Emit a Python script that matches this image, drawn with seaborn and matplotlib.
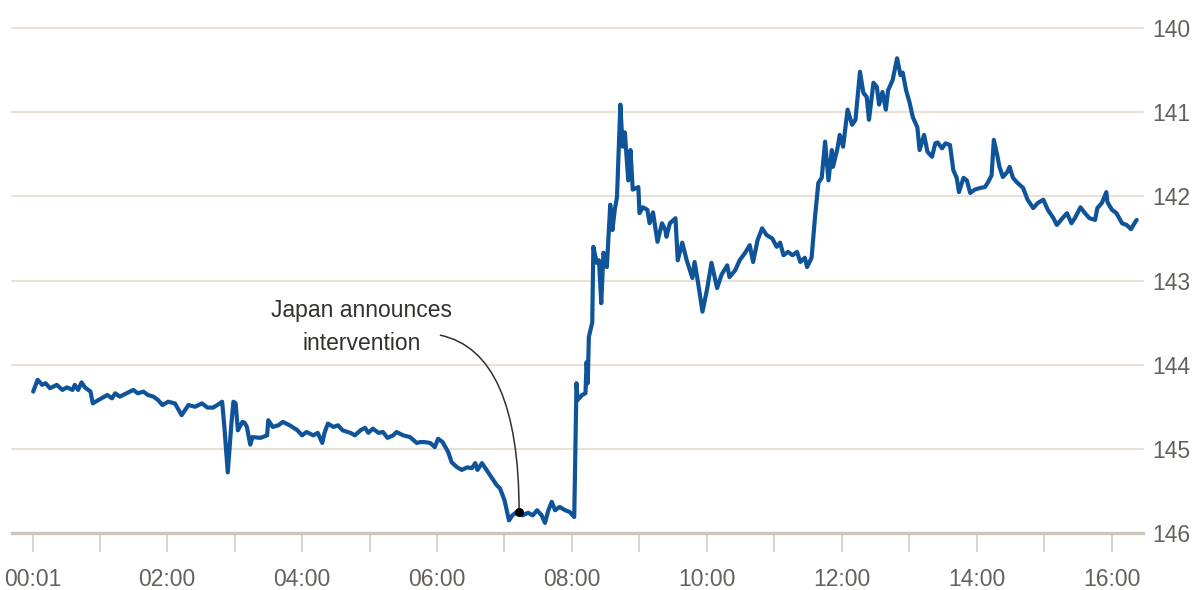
import matplotlib
matplotlib.use("Agg")
import matplotlib.pyplot as plt
import seaborn as sns
import pandas as pd

# Dollar-yen rate through the trading day (minutes after midnight, yen per dollar)
minutes = [
    1, 5, 9, 12, 16, 22, 27, 31, 36, 38, 41, 44, 47, 52, 54, 59, 67, 71, 74, 78,
    84, 90, 94, 99, 103, 108, 112, 116, 121, 127, 133, 139, 145, 151, 156, 161, 167, 169, 171, 173,
    174, 177, 179, 181, 183, 187, 189, 191, 194, 196, 203, 209, 210, 214, 219, 223, 229, 236, 240, 244,
    250, 254, 258, 260, 263, 268, 272, 276, 283, 287, 292, 296, 299, 303, 308, 312, 316, 321, 324, 330,
    336, 342, 345, 349, 354, 358, 361, 365, 370, 373, 378, 382, 387, 391, 394, 396, 400, 404, 409, 413,
    416, 420, 422, 424, 427, 431, 436, 441, 445, 449, 453, 456, 459, 462, 465, 469, 474, 478, 482, 484,
    485, 489, 492, 493, 494, 495, 498, 499, 502, 504, 506, 508, 511, 514, 516, 518, 520, 523, 525, 527,
    530, 532, 534, 539, 540, 543, 547, 549, 552, 556, 560, 563, 564, 567, 572, 574, 578, 582, 587, 589,
    592, 596, 600, 604, 609, 613, 618, 620, 625, 629, 634, 638, 641, 645, 649, 653, 658, 662, 665, 668,
    672, 676, 680, 683, 687, 689, 693, 696, 699, 702, 705, 708, 711, 712, 716, 718, 721, 725, 729, 732,
    736, 739, 742, 744, 748, 751, 753, 756, 759, 761, 765, 769, 772, 774, 777, 780, 783, 787, 789, 793,
    796, 800, 803, 805, 809, 812, 816, 819, 822, 824, 828, 831, 834, 838, 843, 847, 850, 853, 855, 858,
    860, 863, 867, 869, 872, 876, 881, 885, 890, 894, 899, 903, 908, 911, 916, 920, 924, 927, 932, 936,
    940, 945, 947, 951, 955, 956, 960, 964, 969, 973, 977, 980, 982,
]
usd_jpy = [
    144.32, 144.18, 144.24, 144.22, 144.28, 144.24, 144.30, 144.27, 144.30, 144.24, 144.30, 144.21, 144.27, 144.32, 144.46, 144.42, 144.36, 144.40, 144.34, 144.38,
    144.34, 144.30, 144.34, 144.32, 144.36, 144.38, 144.42, 144.48, 144.44, 144.46, 144.60, 144.48, 144.50, 144.46, 144.51, 144.51, 144.46, 144.44, 144.74, 145.10,
    145.28, 144.74, 144.44, 144.46, 144.78, 144.68, 144.69, 144.74, 144.95, 144.86, 144.87, 144.84, 144.66, 144.74, 144.72, 144.68, 144.72, 144.78, 144.84, 144.80,
    144.84, 144.81, 144.93, 144.81, 144.70, 144.74, 144.72, 144.78, 144.81, 144.84, 144.78, 144.75, 144.81, 144.76, 144.81, 144.80, 144.87, 144.84, 144.80, 144.84,
    144.86, 144.93, 144.92, 144.92, 144.93, 144.98, 144.88, 144.92, 145.04, 145.16, 145.22, 145.25, 145.22, 145.23, 145.17, 145.25, 145.17, 145.25, 145.35, 145.43,
    145.47, 145.61, 145.73, 145.85, 145.79, 145.75, 145.79, 145.76, 145.79, 145.73, 145.79, 145.88, 145.73, 145.63, 145.73, 145.69, 145.73, 145.75, 145.81, 144.22,
    144.42, 144.36, 144.34, 143.97, 144.22, 143.67, 143.50, 142.60, 142.79, 142.76, 143.27, 142.67, 142.84, 142.10, 142.40, 142.16, 142.01, 140.91, 141.41, 141.24,
    141.81, 141.45, 141.92, 141.89, 142.20, 142.13, 142.16, 142.32, 142.19, 142.54, 142.32, 142.40, 142.48, 142.32, 142.26, 142.76, 142.55, 142.76, 142.97, 142.78,
    143.02, 143.37, 143.11, 142.79, 143.09, 142.93, 142.82, 142.96, 142.88, 142.76, 142.67, 142.58, 142.78, 142.52, 142.38, 142.46, 142.50, 142.60, 142.55, 142.70,
    142.66, 142.70, 142.66, 142.78, 142.73, 142.84, 142.73, 142.25, 141.84, 141.78, 141.35, 141.81, 141.45, 141.65, 141.43, 141.27, 141.41, 140.97, 141.15, 141.09,
    140.52, 140.77, 140.82, 141.09, 140.65, 140.70, 140.91, 140.76, 140.97, 140.74, 140.62, 140.36, 140.56, 140.53, 140.74, 140.88, 141.06, 141.18, 141.45, 141.27,
    141.47, 141.53, 141.37, 141.36, 141.43, 141.37, 141.39, 141.69, 141.78, 141.95, 141.78, 141.81, 141.96, 141.92, 141.90, 141.89, 141.83, 141.75, 141.33, 141.51,
    141.65, 141.77, 141.71, 141.65, 141.78, 141.84, 141.90, 142.04, 142.14, 142.08, 142.04, 142.16, 142.26, 142.34, 142.26, 142.20, 142.32, 142.26, 142.13, 142.20,
    142.26, 142.28, 142.14, 142.08, 141.95, 142.07, 142.16, 142.20, 142.32, 142.34, 142.39, 142.32, 142.28,
]

# Axis ticks
hour_label_pos = [1, 120, 240, 360, 480, 600, 720, 840, 960]
hour_labels = ["00:01", "02:00", "04:00", "06:00", "08:00", "10:00", "12:00", "14:00", "16:00"]
hour_minor_pos = [60, 180, 300, 420, 540, 660, 780, 900]
yen_ticks = [140, 141, 142, 143, 144, 145, 146]

# Annotation of the announcement
event_minute = 433
event_rate = 145.75
event_text = "Japan announces\nintervention"

sns.set_style("white")
plt.rcParams["font.family"] = ["Liberation Sans", "DejaVu Sans"]

df = pd.DataFrame({"minute": minutes, "rate": usd_jpy})

fig = plt.figure(figsize=(12.03, 5.90), dpi=100)
ax = fig.add_axes([12 / 1203, 57 / 590, 1131 / 1203, 505 / 590])

sns.lineplot(data=df, x="minute", y="rate", ax=ax, color="#0f5499",
             linewidth=3.0, estimator=None, sort=False)
for ln in ax.get_lines():
    ln.set_solid_joinstyle("round")
    ln.set_solid_capstyle("round")

ax.set_xlim(-17.8, 987.6)
ax.set_ylim(146, 140)

ax.set_yticks(yen_ticks)
ax.set_yticklabels([str(t) for t in yen_ticks])
ax.yaxis.tick_right()
ax.tick_params(axis="y", length=0, pad=7, labelsize=16.5, labelcolor="#66605c")
ax.grid(axis="y", color="#e9e0d6", linewidth=1.5)
for gl in ax.get_ygridlines():
    gl.set_clip_on(False)
ax.set_axisbelow(True)

ax.set_xticks(hour_label_pos)
ax.set_xticklabels(hour_labels)
ax.set_xticks(hour_minor_pos, minor=True)
ax.tick_params(axis="x", which="both", bottom=True, direction="out", length=14,
               width=1.3, color="#d8d0c8", pad=11)
ax.tick_params(axis="x", which="major", labelsize=16.5, labelcolor="#66605c")

for side in ["top", "left", "right"]:
    ax.spines[side].set_visible(False)
ax.spines["bottom"].set_color("#cfc6bd")
ax.spines["bottom"].set_linewidth(2.4)

ax.set_xlabel("")
ax.set_ylabel("")

# Curved leader from the label down to the announcement point
ax.annotate("", xy=(event_minute, event_rate), xytext=(363, 143.65),
            arrowprops=dict(arrowstyle="-", color="#33302e", lw=1.1,
                            shrinkA=0, shrinkB=0,
                            connectionstyle="angle3,angleA=-12,angleB=90"))
ax.plot([event_minute], [event_rate], marker="o", markersize=5.5,
        color="#000000", zorder=5)
ax.text(293, 143.55, event_text, ha="center", va="center", fontsize=16.5,
        color="#33302e", linespacing=1.55)

fig.savefig("out.png", dpi=100)
